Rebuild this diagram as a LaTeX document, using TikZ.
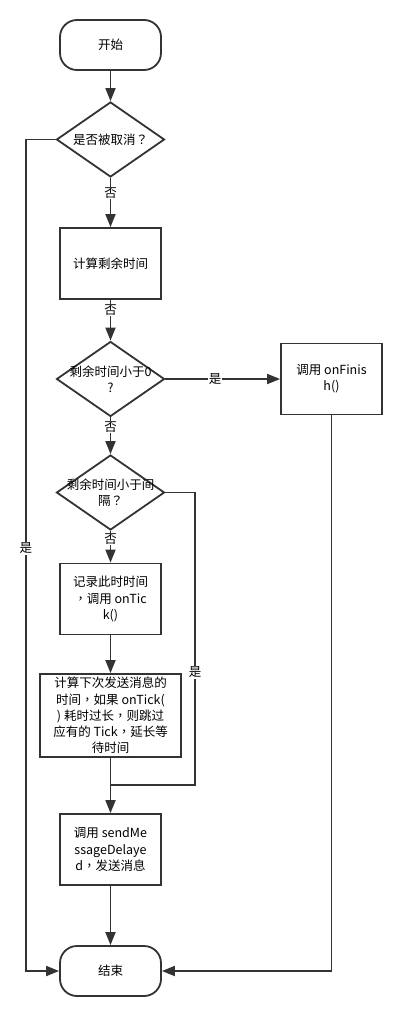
\documentclass[tikz,border=0pt]{standalone}
\usepackage{fontspec}
\setmainfont{Noto Sans CJK SC}
\newfontfamily\tcpunct{Noto Sans CJK TC}
\newcommand{\fq}{{\tcpunct ？}}
\newcommand{\fc}{{\tcpunct ，}}
\usetikzlibrary{shapes.geometric,arrows.meta}
\definecolor{lc}{HTML}{333333}
\begin{document}
\begin{tikzpicture}[x=1pt,y=-1pt,
  every node/.style={font=\fontsize{12.5}{16.2}\selectfont, text=black},
  line/.style={draw=lc, line width=1.8pt},
  arr/.style={line, -{Triangle[length=13pt,width=10pt]}},
  box/.style={draw=lc, line width=1.8pt, minimum width=101pt, minimum height=71pt, align=center, inner sep=0pt},
  term/.style={box, minimum height=50pt, rounded corners=17pt},
  dia/.style={draw=lc, line width=1.8pt, diamond, minimum width=108pt, minimum height=75pt, inner sep=0pt},
  txt/.style={align=center, inner sep=0pt},
  lbl/.style={fill=white, inner sep=1pt}
]
\useasboundingbox (0,0) rectangle (402,1016);

\node[term] (start) at (110.5,45) {开始};
\node[dia] (d1) at (110.5,139.5) {};
\node[txt] (t1) at (d1) {是否被取消\fq};
\node[box] (b1) at (110.5,263.5) {计算剩余时间};
\node[dia] (d2) at (110.5,379) {};
\node[txt] (t2) at (d2) {剩余时间小于0\\?};
\node[box] (fin) at (331.5,379) {调用 onFinis\\h()};
\node[dia] (d3) at (110.5,492.5) {};
\node[txt] (t3) at (d3) {剩余时间小于间\\隔\fq};
\node[box] (b3) at (110.5,599) {记录此时时间\\\fc 调用 onTic\\k()};
\node[box, minimum width=141pt, minimum height=83pt] (b4) at (110.5,715.5) {计算下次发送消息的\\时间\fc 如果 onTick(\\) 耗时过长\fc 则跳过\\应有的 Tick\fc 延长等\\待时间};
\node[box] (b5) at (110.5,849.5) {调用 sendMe\\ssageDelaye\\d\fc 发送消息};
\node[term] (end) at (110.5,971) {结束};

\coordinate (cl) at (26,139.5);
\coordinate (jr) at (195,785);
\coordinate (jm) at (110.5,785);

\draw[arr] (start) -- (d1);
\draw[arr] (d1) -- (b1);
\draw[arr] (b1) -- (d2);
\draw[arr] (d2.east) -- (fin.west);
\draw[arr] (fin.south) |- (end.east);
\draw[arr] (d2) -- (d3);
\draw[arr] (d3) -- (b3);
\draw[arr] (b3) -- (b4);
\draw[line] (d3.east) -| (jr) -- (jm);
\draw[line] (b4.south) -- (jm);
\draw[arr] (jm) -- (b5.north);
\draw[arr] (b5) -- (end);
\draw[arr] (d1.west) -- (cl) |- (end.west);

\node[lbl] (l1) at (110.5,193) {否};
\node[lbl] (l2) at (110.5,310) {否};
\node[lbl] (l3) at (110.5,427) {否};
\node[lbl] (l4) at (110.5,539) {否};
\node[lbl] (l5) at (215,379) {是};
\node[lbl] (l6) at (26,548) {是};
\node[lbl] (l7) at (195,672) {是};
\end{tikzpicture}
\end{document}
